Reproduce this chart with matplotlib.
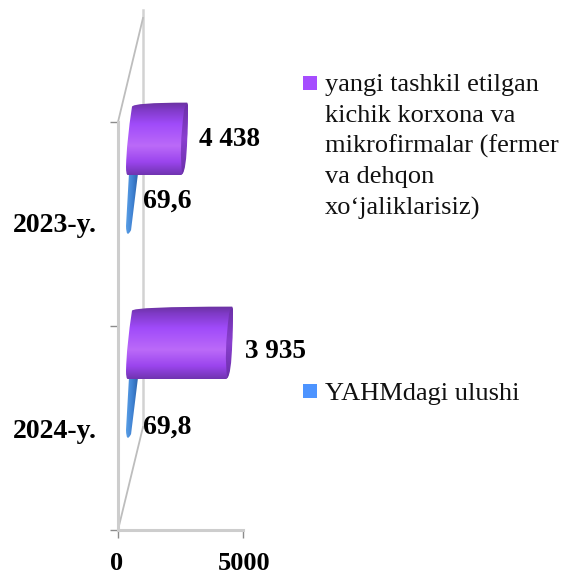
import numpy as np
import matplotlib
matplotlib.use('Agg')
import matplotlib.pyplot as plt
from matplotlib.colors import LinearSegmentedColormap
from matplotlib.patches import PathPatch, Rectangle
from matplotlib.path import Path

# tartib: pastdan yuqoriga
categories = ['2024-y.', '2023-y.']
bar_lengths = [4360, 2560]          # rasmdagi uzunlik
purple_labels = ['3 935', '4 438']  # rasmdagi yozuv
blue_values = [69.8, 69.6]
blue_labels = ['69,8', '69,6']
x_ticks = [0, 5000]
legend_purple = ['yangi tashkil etilgan', 'kichik korxona va', 'mikrofirmalar (fermer', 'va dehqon', 'xo‘jaliklarisiz)']
legend_blue = 'YAHMdagi ulushi'

W, H = 563, 573
SERIF = 'Liberation Serif'
GREY = '#cdcdcd'
PURPLE = '#a64dff'
BLUE = '#4d94ff'

fig = plt.figure(figsize=(W / 100, H / 100), dpi=100)
# 0 -> 118px, 5000 -> 243px; y: 0 -> 530px, 1 birlik = 204px
ax = fig.add_axes([118 / W, 1 - 530 / H, 125 / W, 204 * 2.6 / H])
ax.set_xlim(0, 5000)
ax.set_ylim(0, 2.6)
ax.patch.set_alpha(0)


def px(x, y):
    return x / W, 1 - y / H


def gradient_fill(path, cmap, extent, horizontal=False, zorder=3):
    patch = PathPatch(path, fc='none', ec='none', transform=ax.transData)
    ax.add_patch(patch)
    g = np.linspace(0, 1, 256)
    g = g.reshape(1, -1) if horizontal else g.reshape(-1, 1)
    im = ax.imshow(g, cmap=cmap, extent=extent, aspect='auto', origin='upper',
                   vmin=0, vmax=1, zorder=zorder, interpolation='bilinear')
    im.set_clip_path(patch)


body_cmap = LinearSegmentedColormap.from_list('body', [
    (0, '#6a329f'), (0.1, '#7f3ac6'), (0.3, '#a04bfa'), (0.6, '#bb6af8'),
    (0.82, '#9b45ee'), (1, '#7034b0')])
cap_cmap = LinearSegmentedColormap.from_list('cap', ['#6a2fa5', '#8a3fd0', '#6a2fa8'])
blue_cmap = LinearSegmentedColormap.from_list('blue', ['#5a9fe6', '#3f82d2', '#2a5fa6'])


def draw_purple(base, length):
    y0, y1 = base + 0.74, base + 1.095
    shear = 240     # verxi o'ngga siljigan
    start = 320
    verts = [(start, y0 + 0.04), (start + shear * 0.1, y1 - 0.19), (start + shear, y1 - 0.02),
             (start + shear + 40, y1), (length + shear - 40, y1),
             (length + shear, y1), (length + shear, y1 - 0.02),
             (length + shear - 20, (y0 + y1) / 2), (length + 40, y0 + 0.01),
             (length, y0), (length - 40, y0),
             (start + 70, y0), (start, y0), (start, y0 + 0.04)]
    codes = [Path.MOVETO, Path.CURVE3, Path.CURVE3,
             Path.CURVE3, Path.LINETO,
             Path.CURVE3, Path.CURVE3,
             Path.CURVE3, Path.CURVE3,
             Path.CURVE3, Path.LINETO,
             Path.LINETO, Path.CURVE3, Path.CURVE3]
    gradient_fill(Path(verts, codes), body_cmap, (0, 5000, y0, y1), zorder=4)
    # o'ng qopqoq
    cap = [(length + shear, y1 - 0.01), (length + shear, y1 - 0.14), (length + shear - 30, (y0 + y1) / 2),
           (length + shear - 70, y0 + 0.02), (length + 10, y0 + 0.005),
           (length - 130, y0 + 0.12), (length + shear - 160, y1 - 0.04),
           (length + shear - 110, y1 - 0.002), (length + shear, y1 - 0.01)]
    cap_codes = [Path.MOVETO, Path.CURVE3, Path.CURVE3, Path.CURVE3, Path.CURVE3,
                 Path.CURVE3, Path.CURVE3, Path.CURVE3, Path.CURVE3]
    gradient_fill(Path(cap, cap_codes), cap_cmap, (0, 5000, y0, y1), zorder=5)


def draw_blue(base, value):
    y0, y1 = base + 0.44, base + 0.75
    top_l, top_r = 440, 440 + value * 5.2
    bot_l, bot_r = 320, 320 + value * 2.9
    verts = [(top_l, y1), (bot_l, y0 + 0.05),
             (bot_l + 10, y0 - 0.015), (bot_r, y0 + 0.03),
             (top_r, y1), (top_l, y1)]
    codes = [Path.MOVETO, Path.LINETO, Path.CURVE3, Path.CURVE3, Path.LINETO, Path.LINETO]
    gradient_fill(Path(verts, codes), blue_cmap, (300, 820, y0, y1), horizontal=True, zorder=3)


# orqa devor va diagonallar
ax.plot([1000, 1000], [0.505, 2.55], color='#d2d2d2', lw=1.8, zorder=1, clip_on=False)
ax.plot([0, 1000], [0, 0.505], color='#bdbdbd', lw=1.3, zorder=1, clip_on=False)
ax.plot([0, 1000], [2.0, 2.51], color='#bdbdbd', lw=1.3, zorder=1, clip_on=False)

for i in range(len(categories)):
    draw_blue(i, blue_values[i])
    draw_purple(i, bar_lengths[i])

ax.set_xlim(0, 5000)
ax.set_ylim(0, 2.6)

for s in ['top', 'right']:
    ax.spines[s].set_visible(False)
ax.spines['left'].set_bounds(0, 2)
ax.spines['left'].set_color(GREY)
ax.spines['left'].set_linewidth(2.2)
ax.spines['bottom'].set_color(GREY)
ax.spines['bottom'].set_linewidth(2.2)
ax.set_xticks(x_ticks)
ax.set_yticks([0, 1, 2])
ax.set_yticklabels([])
ax.set_xticklabels([])
ax.tick_params(axis='x', length=6, width=1, color='#8c8c8c')
ax.tick_params(axis='y', length=5.5, width=1, color='#8c8c8c')

bold = dict(family=SERIF, fontweight='bold', fontsize=20, color='black',
            transform=fig.transFigure, va='center')
fig.text(*px(97, 226), categories[1], ha='right', **bold)
fig.text(*px(97, 432), categories[0], ha='right', **bold)
fig.text(*px(143, 427), blue_labels[0], ha='left', **bold)
fig.text(*px(143, 201), blue_labels[1], ha='left', **bold)
bold['fontsize'] = 19.5
fig.text(*px(245, 351), purple_labels[0], ha='left', **bold)
fig.text(*px(199, 140), purple_labels[1], ha='left', **bold)
# pastki yozuvlar rasm chetiga sig'ishi uchun
bold['fontsize'] = 19
fig.text(*px(117, 563), str(x_ticks[0]), ha='center', **bold)
fig.text(*px(244, 563), str(x_ticks[1]), ha='center', **bold)

# legenda
fig.add_artist(Rectangle(px(303, 90), 14 / W, 14 / H, fc=PURPLE, ec='none', transform=fig.transFigure))
fig.add_artist(Rectangle(px(303, 398), 14 / W, 14 / H, fc=BLUE, ec='none', transform=fig.transFigure))
for i, line in enumerate(legend_purple):
    fig.text(*px(325, 85 + i * 30.8), line, family=SERIF, fontsize=19, color='#111111', va='center', ha='left')
fig.text(*px(325, 394), legend_blue, family=SERIF, fontsize=19, color='#111111', va='center', ha='left')

fig.savefig('out.png', dpi=100)
